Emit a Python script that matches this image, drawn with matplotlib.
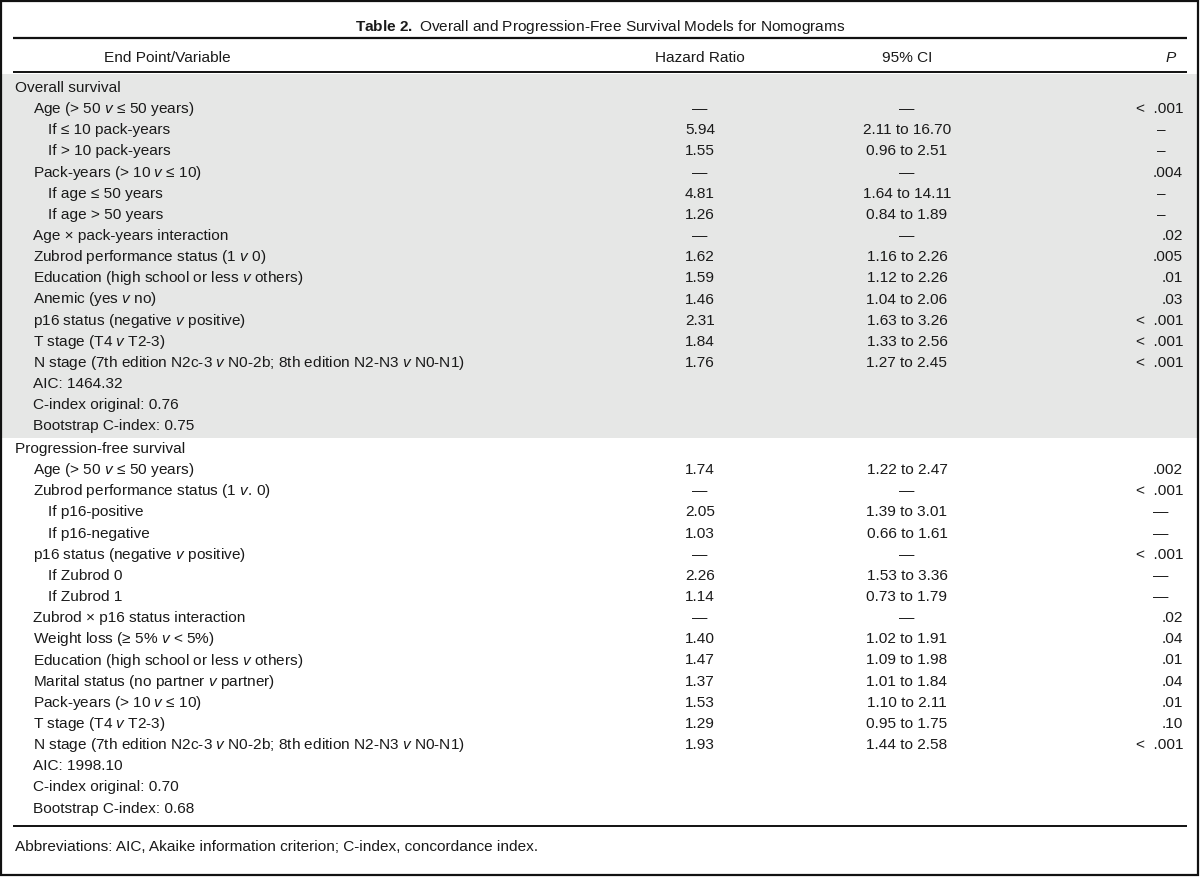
import matplotlib
matplotlib.use('Agg')
import matplotlib.pyplot as plt
import matplotlib.patches as patches

plt.rcParams['font.family'] = ['Liberation Sans', 'DejaVu Sans']
plt.rcParams['mathtext.fontset'] = 'custom'
plt.rcParams['mathtext.rm'] = 'Liberation Sans'
plt.rcParams['mathtext.it'] = 'Liberation Sans:italic'
plt.rcParams['mathtext.bf'] = 'Liberation Sans:bold'

title_rest = 'Overall and Progression-Free Survival Models for Nomograms'
headers = ['End Point/Variable', 'Hazard Ratio', '95% CI', '$P$']

# Overall survival section
os_title = 'Overall survival'
os_labels = ['Age (> 50 $v$ ≤ 50 years)', 'If ≤ 10 pack-years', 'If > 10 pack-years',
             'Pack-years (> 10 $v$ ≤ 10)', 'If age ≤ 50 years', 'If age > 50 years',
             'Age × pack-years interaction', 'Zubrod performance status (1 $v$ 0)',
             'Education (high school or less $v$ others)', 'Anemic (yes $v$ no)',
             'p16 status (negative $v$ positive)', 'T stage (T4 $v$ T2-3)',
             'N stage (7th edition N2c-3 $v$ N0-2b; 8th edition N2-N3 $v$ N0-N1)',
             'AIC: 1464.32', 'C-index original: 0.76', 'Bootstrap C-index: 0.75']
os_level = [1, 2, 2, 1, 2, 2, 1, 1, 1, 1, 1, 1, 1, 1, 1, 1]
os_hr = ['—', '5.94', '1.55', '—', '4.81', '1.26', '—', '1.62', '1.59', '1.46',
         '2.31', '1.84', '1.76', '', '', '']
os_ci = ['—', '2.11 to 16.70', '0.96 to 2.51', '—', '1.64 to 14.11', '0.84 to 1.89', '—',
         '1.16 to 2.26', '1.12 to 2.26', '1.04 to 2.06', '1.63 to 3.26', '1.33 to 2.56',
         '1.27 to 2.45', '', '', '']
os_p = ['< .001', '–', '–', '.004', '–', '–', '.02', '.005', '.01', '.03',
        '< .001', '< .001', '< .001', '', '', '']

# Progression-free survival section
pfs_title = 'Progression-free survival'
pfs_labels = ['Age (> 50 $v$ ≤ 50 years)', 'Zubrod performance status (1 $v$. 0)',
              'If p16-positive', 'If p16-negative', 'p16 status (negative $v$ positive)',
              'If Zubrod 0', 'If Zubrod 1', 'Zubrod × p16 status interaction',
              'Weight loss (≥ 5% $v$ < 5%)', 'Education (high school or less $v$ others)',
              'Marital status (no partner $v$ partner)', 'Pack-years (> 10 $v$ ≤ 10)',
              'T stage (T4 $v$ T2-3)',
              'N stage (7th edition N2c-3 $v$ N0-2b; 8th edition N2-N3 $v$ N0-N1)',
              'AIC: 1998.10', 'C-index original: 0.70', 'Bootstrap C-index: 0.68']
pfs_level = [1, 1, 2, 2, 1, 2, 2, 1, 1, 1, 1, 1, 1, 1, 1, 1, 1]
pfs_hr = ['1.74', '—', '2.05', '1.03', '—', '2.26', '1.14', '—', '1.40', '1.47',
          '1.37', '1.53', '1.29', '1.93', '', '', '']
pfs_ci = ['1.22 to 2.47', '—', '1.39 to 3.01', '0.66 to 1.61', '—', '1.53 to 3.36',
          '0.73 to 1.79', '—', '1.02 to 1.91', '1.09 to 1.98', '1.01 to 1.84',
          '1.10 to 2.11', '0.95 to 1.75', '1.44 to 2.58', '', '', '']
pfs_p = ['.002', '< .001', '—', '—', '< .001', '—', '—', '.02', '.04', '.01', '.04',
         '.01', '.10', '< .001', '', '', '']

footnote = 'Abbreviations: AIC, Akaike information criterion; C-index, concordance index.'

fig = plt.figure(figsize=(12, 8.77), dpi=100)
ax = fig.add_axes([0, 0, 1, 1])
ax.set_xlim(0, 1200)
ax.set_ylim(877, 0)
ax.axis('off')

fs = 11.1
col = '#1a1a1a'
x_lev = {0: 15, 1: 33, 2: 48}
x_hr, x_ci, x_p = 700, 907, 1183
row_h = 21.15

# frame
ax.add_patch(patches.Rectangle((1, 1), 1197, 874, fill=False, edgecolor='#111111', linewidth=1.6))

# title
ax.text(600, 27, r'$\bf{Table\ 2.}$ ' + title_rest, ha='center', va='center', fontsize=fs, color=col)
ax.plot([13, 1187], [38, 38], color='#111111', linewidth=1.6, solid_capstyle='butt')

# header
ax.text(167, 58, headers[0], ha='center', va='center', fontsize=fs, color=col)
ax.text(x_hr, 58, headers[1], ha='center', va='center', fontsize=fs, color=col)
ax.text(x_ci, 58, headers[2], ha='center', va='center', fontsize=fs, color=col)
ax.text(1177, 58, headers[3], ha='right', va='center', fontsize=fs, color=col)
ax.plot([13, 1187], [72, 72], color='#111111', linewidth=1.4, solid_capstyle='butt')

# shaded overall survival block
ax.add_patch(patches.Rectangle((2, 74), 1195, 364, facecolor='#e6e7e6', edgecolor='none', zorder=0))


def draw_section(y0, title, labels, levels, hr, ci, p):
    ax.text(x_lev[0], y0, title, ha='left', va='center', fontsize=fs, color=col)
    for i, lab in enumerate(labels):
        y = y0 + (i + 1) * row_h
        ax.text(x_lev[levels[i]], y, lab, ha='left', va='center', fontsize=fs, color=col)
        ax.text(x_hr, y, hr[i], ha='center', va='center', fontsize=fs, color=col)
        ax.text(x_ci, y, ci[i], ha='center', va='center', fontsize=fs, color=col)
        pv = p[i]
        if pv in ('–', '—'):
            ax.text(x_p - 22, y, pv, ha='center', va='center', fontsize=fs, color=col)
        else:
            ax.text(x_p, y, pv.replace('< ', '<  '), ha='right', va='center', fontsize=fs, color=col)


draw_section(88, os_title, os_labels, os_level, os_hr, os_ci, os_p)
draw_section(449, pfs_title, pfs_labels, pfs_level, pfs_hr, pfs_ci, pfs_p)

ax.plot([13, 1187], [826, 826], color='#111111', linewidth=1.4, solid_capstyle='butt')
ax.text(15, 847, footnote, ha='left', va='center', fontsize=fs, color=col)

fig.savefig('out.png', dpi=100)
